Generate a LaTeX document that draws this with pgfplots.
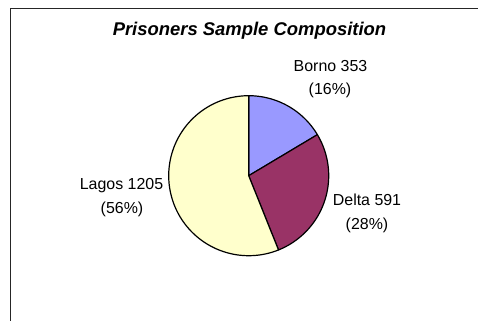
\documentclass[border=0pt]{standalone}
\usepackage{pgfplots}
\pgfplotsset{compat=1.18}
\usepackage{pgfplotstable}
\usepackage{fontspec}
\setmainfont{Liberation Sans}
\definecolor{borno}{HTML}{9999FF}
\definecolor{delta}{HTML}{993366}
\definecolor{lagos}{HTML}{FFFFCC}
\pgfplotstableread{
region count
Borno 353
Delta 591
Lagos 1205
}\piedata
\begin{document}
\begin{tikzpicture}[x=1bp,y=1bp]
\pgfplotstablegetelem{0}{count}\of\piedata \let\vA\pgfplotsretval
\pgfplotstablegetelem{1}{count}\of\piedata \let\vB\pgfplotsretval
\pgfplotstablegetelem{2}{count}\of\piedata \let\vC\pgfplotsretval
\pgfmathsetmacro\tot{\vA+\vB+\vC}
\pgfmathsetmacro\fA{\vA/\tot}
\pgfmathsetmacro\fB{\vB/\tot}
\pgfmathsetmacro\aA{90-360*\fA}
\pgfmathsetmacro\aB{\aA-360*\fB}
\useasboundingbox (0,0) rectangle (478,320);
\clip (0,0) rectangle (478,320);
\fill[white] (0,0) rectangle (478,320);
\draw[line width=1.4bp, black!85] (10.5,-20) rectangle (520,311.5);
\begin{axis}[hide axis, x=80bp, y=80bp, xmin=-1.1, xmax=1.1, ymin=-1.1, ymax=1.1,
  anchor=origin, at={(248.7bp,144.3bp)}, clip=false]
\addplot[fill=borno, draw=black, line width=1.2bp, line join=round, domain=\aA:90, samples=60]
  ({cos(x)},{sin(x)}) -- (axis cs:0,0) -- cycle;
\addplot[fill=delta, draw=black, line width=1.2bp, line join=round, domain=\aB:\aA, samples=80]
  ({cos(x)},{sin(x)}) -- (axis cs:0,0) -- cycle;
\addplot[fill=lagos, draw=black, line width=1.2bp, line join=round, domain=-270:\aB, samples=150]
  ({cos(x)},{sin(x)}) -- (axis cs:0,0) -- cycle;
\end{axis}
\node[font=\fontsize{18.5}{22}\selectfont\bfseries\itshape, anchor=base] at (249.5,284.3) {Prisoners Sample Composition};
\begin{scope}[every node/.style={font=\fontsize{16}{19}\selectfont, anchor=base, inner sep=0pt}]
\node at (330.5,249) {Borno 353};
\node at (330,225.5) {(16\%)};
\node at (121.5,131) {Lagos 1205};
\node at (122,107) {(56\%)};
\node at (367,115) {Delta 591};
\node at (367,91) {(28\%)};
\end{scope}
\end{tikzpicture}
\end{document}
